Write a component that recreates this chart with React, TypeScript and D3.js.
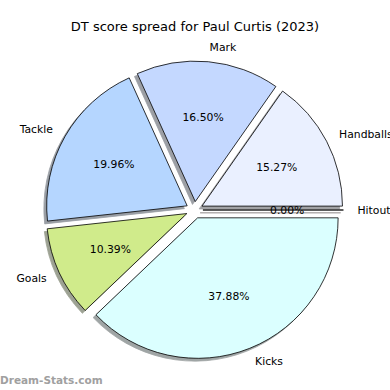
import * as React from 'react';
import * as d3 from 'd3';

// DT points by stat
const categories = ['Handballs', 'Mark', 'Tackle', 'Goals', 'Kicks', 'Hitout'];
const dtPoints = [150, 162, 196, 102, 372, 0];
const sliceColors = ['#eaf0ff', '#c4d8ff', '#b5d6ff', '#d0eb8b', '#dbffff', '#f0d0d0'];

const title = 'DT score spread for Paul Curtis (2023)';
const watermark = 'Dream-Stats.com';

const width = 390;
const height = 390;
const cx = 194.5;
const cy = 210;
const radius = 140.5;
const explode = 0.06;
const shadowOff = 0.02 * radius;

// matplotlib-style angles: counterclockwise from 3 o'clock
const pie = d3.pie<number>().sort(null).startAngle(0).endAngle(Math.PI * 2);

const darken = (c: string) => {
  const rgb = d3.rgb(c);
  return d3.rgb(rgb.r * 0.3, rgb.g * 0.3, rgb.b * 0.3).formatHex();
};

const wedgePath = (a0: number, a1: number) => {
  const p = d3.path();
  p.moveTo(0, 0);
  // canvas angles run clockwise (y down), so negate and go anticlockwise
  p.arc(0, 0, radius, -a0, -a1, true);
  p.closePath();
  return p.toString();
};

const App = () => {
  const arcs = pie(dtPoints);
  const total = d3.sum(dtPoints);

  const slices = arcs.map((a, i) => {
    const mid = (a.startAngle + a.endAngle) / 2;
    const dx = Math.cos(mid);
    const dy = -Math.sin(mid);
    const ox = cx + explode * radius * dx;
    const oy = cy + explode * radius * dy;
    return {
      name: categories[i],
      color: sliceColors[i],
      d: wedgePath(a.startAngle, a.endAngle),
      ox,
      oy,
      dx,
      dy,
      pct: `${((dtPoints[i] / total) * 100).toFixed(2)}%`,
    };
  });

  return (
    <svg width={width} height={height}
      style={{ position: 'absolute', left: 0, top: 0, display: 'block' }}
      fontFamily="DejaVu Sans, sans-serif">
      <rect width={width} height={height} fill="#fff" />
      <text x={width / 2} y={30.5} textAnchor="middle" fontSize={13} fill="#000">{title}</text>

      {/* shadows first, under every wedge */}
      {slices.map((s) => (
        <path key={`sh-${s.name}`} d={s.d}
          transform={`translate(${s.ox - shadowOff},${s.oy + shadowOff})`}
          fill={darken(s.color)} stroke={darken(s.color)} strokeWidth={0.8} opacity={0.5} />
      ))}
      {slices.map((s) => (
        <path key={`w-${s.name}`} d={s.d} transform={`translate(${s.ox},${s.oy})`}
          fill={s.color} stroke="#000" strokeWidth={0.8} strokeLinejoin="miter" />
      ))}

      {/* category labels at 1.1 r */}
      {slices.map((s) => (
        <text key={`l-${s.name}`} x={s.ox + 1.1 * radius * s.dx} y={s.oy + 1.1 * radius * s.dy}
          textAnchor={s.dx >= 0 ? 'start' : 'end'} dominantBaseline="central"
          fontSize={10.8} fill="#000">{s.name}</text>
      ))}
      {/* percentages at 0.6 r */}
      {slices.map((s) => (
        <text key={`p-${s.name}`} x={s.ox + 0.6 * radius * s.dx} y={s.oy + 0.6 * radius * s.dy}
          textAnchor="middle" dominantBaseline="central" fontSize={10.8} fill="#000">{s.pct}</text>
      ))}

      <text x={0} y={383.5} fontSize={10.5} fontWeight="bold" fill="#a0a0a0">{watermark}</text>
    </svg>
  );
};

export default App;
